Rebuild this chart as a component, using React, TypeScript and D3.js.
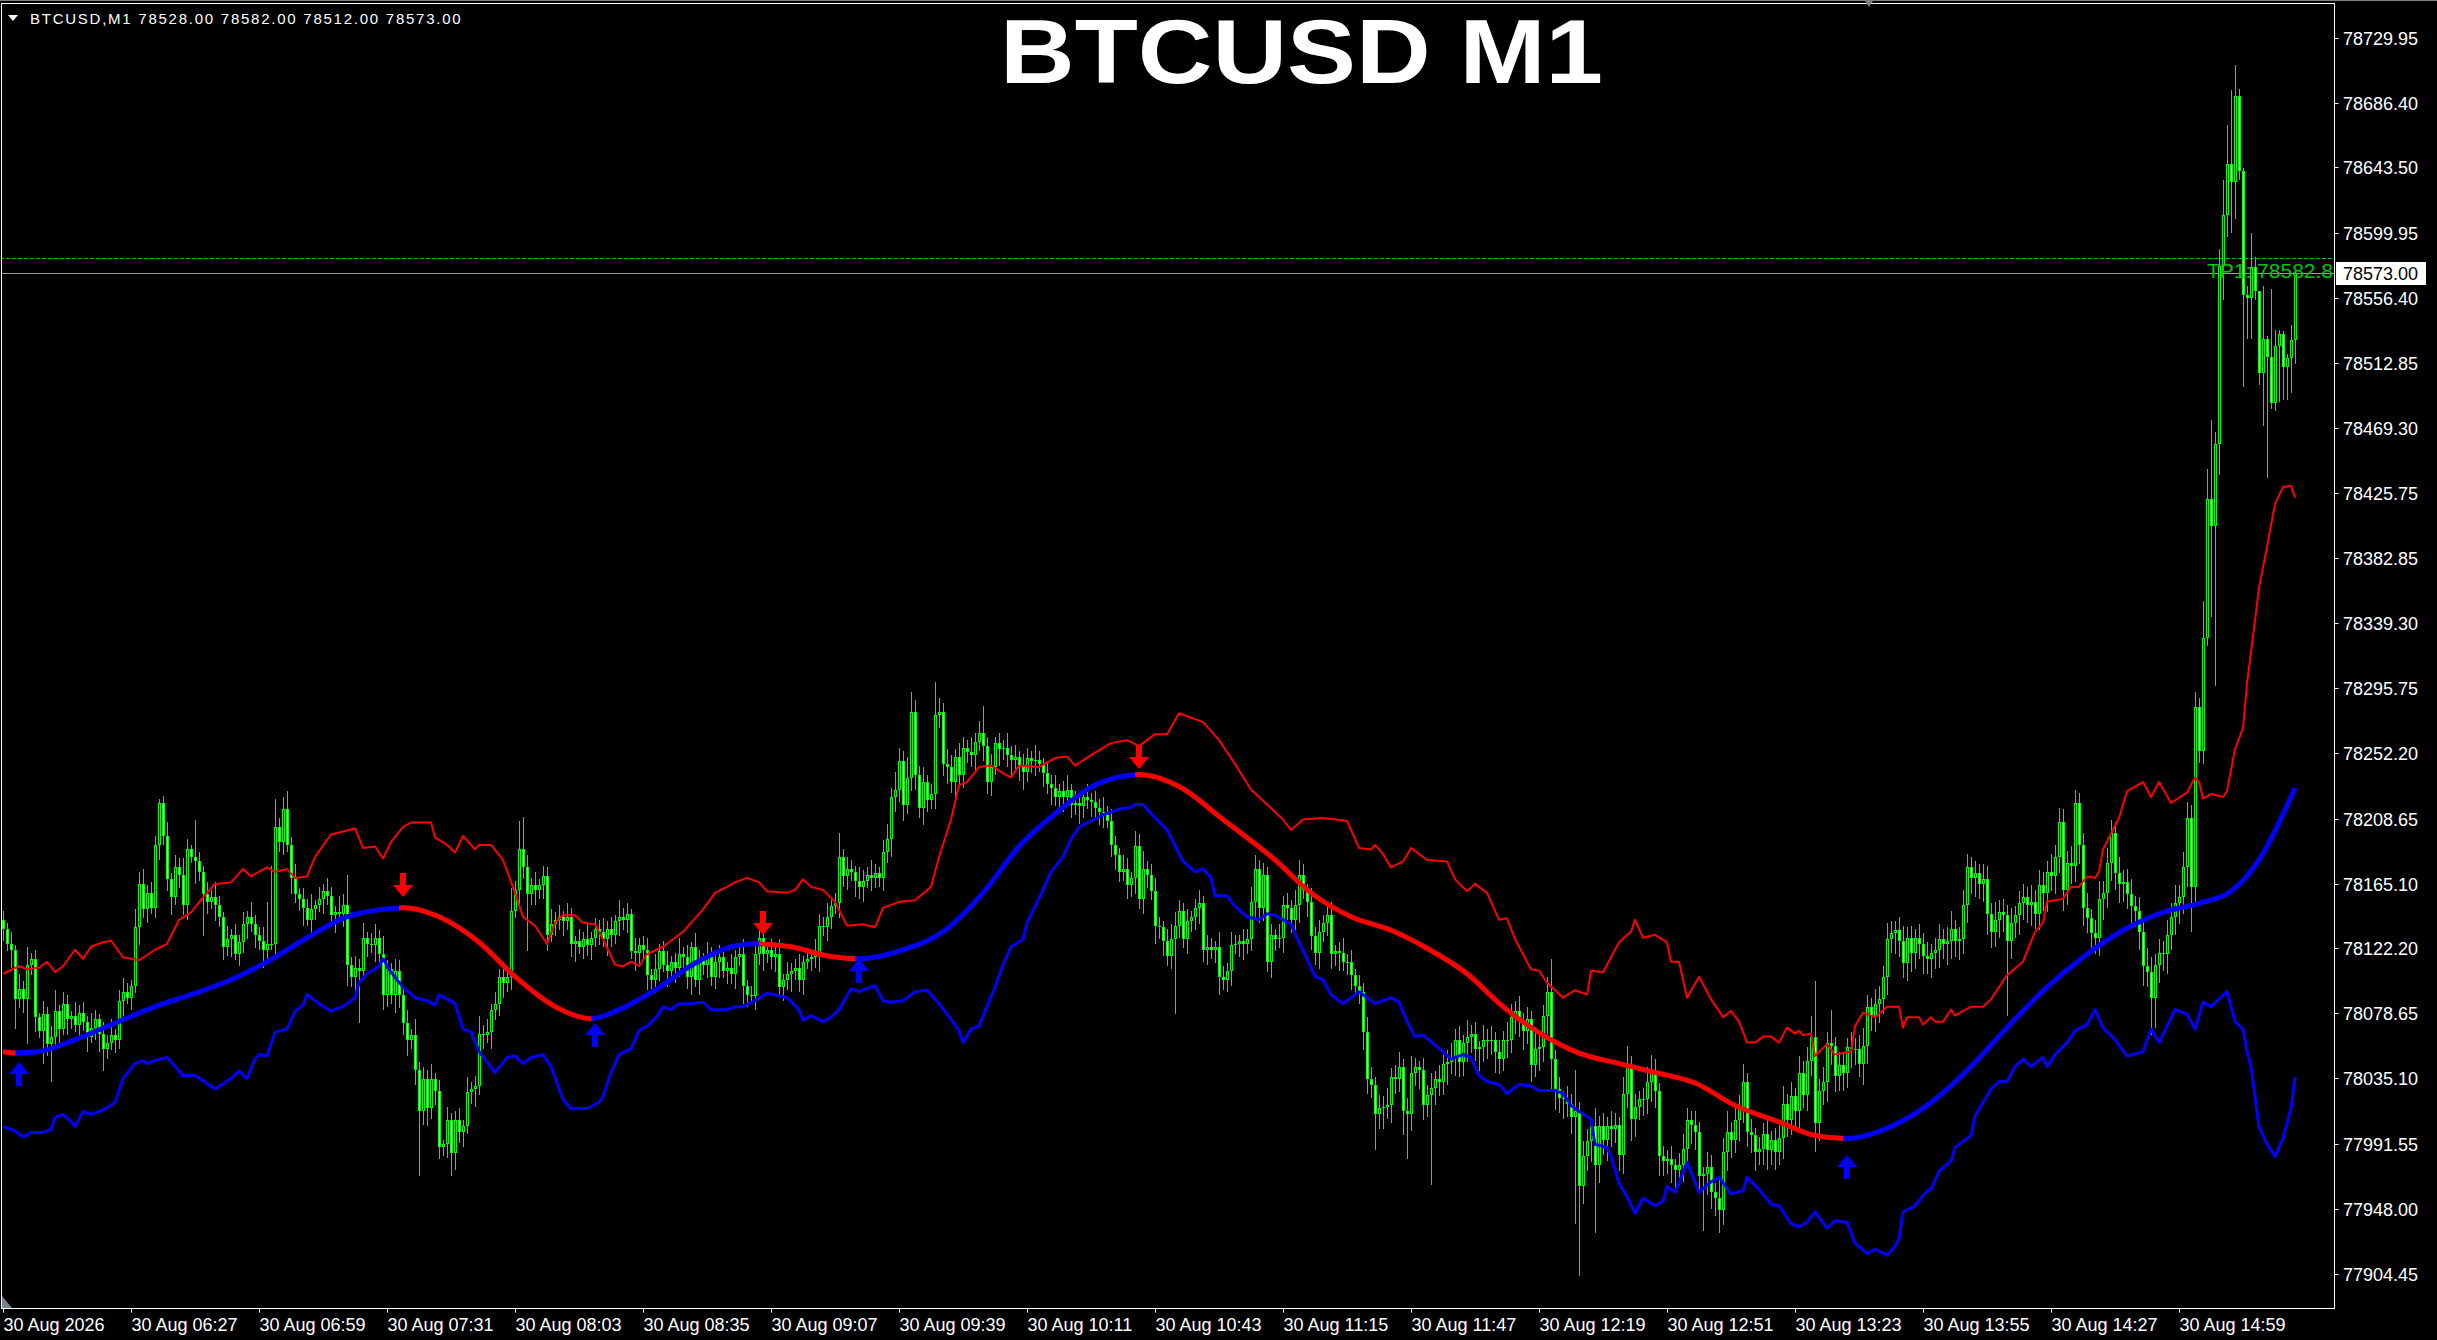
import * as d3 from "d3";

// prices are stored as offsets from base (USD)
const base = 78000;
const firstOpen = 141;

// closing price of every M1 bar, left to right
const closes = [
  135, 125, 121, 88, 95, 88, 111, 115, 76, 67, 78, 58, 63, 80, 68, 85, 75, 77, 71, 79,
  73, 63, 69, 75, 65, 55, 59, 64, 61, 87, 93, 89, 97, 136, 165, 148, 159, 149, 191, 219,
  197, 168, 156, 176, 171, 151, 188, 183, 180, 173, 158, 153, 156, 151, 143, 123, 128, 131, 118, 126,
  138, 143, 138, 131, 127, 121, 125, 125, 203, 193, 215, 191, 169, 158, 155, 149, 141, 148, 151, 155,
  160, 157, 144, 146, 145, 151, 111, 103, 109, 107, 129, 125, 124, 129, 118, 91, 108, 91, 107, 91,
  72, 61, 64, 41, 13, 35, 15, 35, 27, -11, -9, 7, -15, 7, -1, 3, 26, 28, 30, 65,
  64, 66, 81, 85, 103, 99, 103, 147, 161, 188, 176, 158, 164, 161, 164, 170, 131, 138, 141, 143,
  140, 143, 125, 127, 123, 128, 124, 129, 135, 133, 128, 135, 131, 140, 143, 141, 145, 120, 119, 124,
  121, 104, 101, 108, 120, 111, 107, 113, 109, 118, 116, 103, 123, 101, 115, 111, 116, 103, 113, 116,
  107, 109, 105, 116, 118, 97, 91, 90, 118, 129, 118, 121, 116, 118, 96, 101, 105, 107, 109, 101,
  113, 115, 116, 118, 137, 136, 143, 150, 152, 183, 170, 175, 173, 167, 163, 167, 171, 169, 172, 169,
  186, 195, 223, 228, 247, 218, 236, 280, 238, 216, 233, 221, 225, 278, 280, 245, 243, 233, 250, 238,
  256, 253, 251, 260, 266, 257, 233, 243, 259, 255, 256, 251, 248, 250, 243, 240, 249, 247, 248, 245,
  239, 232, 229, 223, 227, 223, 228, 218, 219, 217, 223, 221, 220, 216, 213, 213, 207, 191, 184, 173,
  175, 164, 169, 190, 155, 175, 171, 160, 137, 136, 127, 117, 128, 137, 147, 128, 140, 143, 149, 152,
  121, 123, 121, 123, 103, 101, 107, 124, 125, 127, 125, 128, 153, 175, 149, 171, 113, 131, 128, 129,
  151, 149, 141, 151, 171, 161, 153, 130, 119, 133, 139, 144, 118, 120, 119, 113, 113, 104, 97, 93,
  66, 35, 31, 11, 15, 16, 17, 36, 35, 43, 13, 11, 39, 43, 41, 17, 24, 29, 35, 33,
  45, 46, 49, 61, 46, 59, 63, 65, 55, 56, 61, 60, 61, 53, 48, 61, 61, 76, 80, 73,
  67, 75, 44, 55, 56, 77, 93, 48, 28, 22, 21, 18, 9, 13, -37, -17, -7, 3, -23, 3,
  -6, 3, 1, 4, -16, 25, 43, 8, 16, 21, 21, 33, 39, 27, -17, -20, -19, -23, -26, -23,
  -12, 7, 4, -1, -30, -29, -24, -41, -45, -53, -14, -1, -6, 7, 16, 33, -1, -3, -14, -12,
  -2, -13, -6, -14, -5, 18, 7, 23, 13, 39, 24, 47, 63, 5, 27, 33, 59, 57, 37, 44,
  39, 56, 55, 55, 45, 57, 83, 77, 85, 88, 103, 128, 132, 134, 127, 112, 129, 119, 129, 125,
  117, 115, 119, 121, 128, 125, 127, 135, 127, 128, 151, 176, 169, 172, 165, 168, 145, 133, 141, 146,
  144, 127, 139, 144, 152, 156, 151, 153, 145, 164, 159, 173, 170, 183, 206, 161, 179, 177, 219, 191,
  149, 142, 132, 129, 155, 159, 179, 199, 172, 165, 166, 158, 150, 147, 133, 110, 106, 89, 111, 119,
  118, 131, 143, 152, 156, 176, 209, 163, 283, 254, 329, 422, 404, 459, 578, 612, 646, 634, 691, 641,
  558, 556, 577, 561, 506, 529, 517, 486, 524, 532, 510, 516, 528, 573,
];

// upper / lower shadow length of each bar (USD)
const wickUp = [
  6, 4, 8, 3, 10, 5, 12, 4, 6, 3, 9, 5, 7, 14, 4, 8, 6, 3, 9, 5,
  7, 4, 10, 6, 3, 8, 5, 11, 4, 7, 9, 6, 4, 12, 8, 10, 5, 7, 6, 3,
  5, 9, 4, 8, 6, 11, 7, 3, 25, 6, 4, 8, 5, 10, 6, 3, 9, 4, 7, 5,
  8, 4, 10, 6, 5, 9, 28, 52, 19, 6, 8, 12, 5, 9, 4, 7, 6, 10, 3, 8,
  5, 9, 6, 4, 11, 7, 20, 5, 8, 6, 10, 4, 7, 9, 5, 12, 6, 4, 8, 7,
  6, 9, 4, 11, 5, 8, 6, 10, 4, 7, 3, 9, 5, 6, 8, 4, 10, 5, 7, 12,
  6, 9, 4, 8, 5, 10, 7, 15, 6, 19, 22, 8, 5, 9, 4, 7, 6, 10, 5, 8,
  4, 9, 6, 3, 8, 5, 10, 4, 7, 6, 9, 5, 8, 4, 11, 6, 7, 3, 9, 5,
  6, 8, 4, 10, 5, 7, 9, 4, 6, 11, 5, 8, 3, 9, 6, 4, 10, 7, 5, 8,
  6, 4, 9, 5, 7, 10, 4, 6, 8, 5, 9, 3, 7, 6, 10, 4, 8, 5, 6, 9,
  4, 7, 5, 10, 8, 6, 9, 4, 7, 16, 5, 8, 6, 4, 9, 7, 5, 10, 6, 4,
  8, 10, 6, 12, 9, 7, 14, 13, 8, 6, 10, 5, 7, 22, 9, 6, 10, 8, 5, 9,
  7, 5, 10, 6, 8, 18, 6, 9, 4, 7, 5, 10, 6, 8, 4, 9, 7, 5, 10, 6,
  4, 8, 6, 9, 5, 7, 10, 4, 8, 6, 3, 9, 5, 7, 6, 10, 4, 8, 6, 5,
  9, 7, 4, 10, 8, 12, 5, 7, 9, 6, 4, 8, 10, 9, 7, 5, 8, 4, 6, 9,
  5, 8, 6, 4, 10, 7, 5, 9, 6, 4, 8, 7, 10, 9, 6, 8, 5, 7, 4, 9,
  6, 8, 5, 10, 10, 7, 4, 9, 6, 8, 5, 7, 9, 4, 6, 10, 5, 8, 4, 7,
  6, 10, 8, 5, 9, 7, 12, 6, 8, 10, 5, 9, 11, 6, 4, 8, 7, 10, 5, 9,
  6, 8, 10, 7, 9, 5, 11, 6, 8, 4, 10, 7, 9, 5, 8, 6, 12, 9, 7, 10,
  6, 8, 5, 12, 9, 7, 10, 22, 6, 8, 5, 9, 7, 28, 6, 10, 8, 5, 12, 7,
  9, 6, 10, 8, 5, 11, 14, 7, 9, 6, 8, 10, 12, 9, 5, 7, 6, 9, 4, 8,
  10, 8, 6, 9, 7, 5, 10, 8, 6, 12, 9, 14, 7, 10, 8, 12, 6, 9, 5, 8,
  7, 10, 6, 8, 9, 12, 7, 10, 6, 11, 8, 9, 14, 37, 8, 10, 7, 22, 6, 9,
  8, 6, 10, 7, 9, 12, 8, 6, 10, 9, 7, 11, 8, 6, 9, 10, 7, 8, 6, 9,
  7, 9, 6, 8, 10, 7, 9, 12, 6, 8, 10, 9, 7, 8, 6, 10, 9, 7, 12, 8,
  9, 7, 10, 6, 8, 9, 7, 11, 8, 10, 9, 7, 12, 8, 10, 9, 8, 11, 9, 7,
  8, 10, 6, 9, 12, 8, 10, 9, 7, 11, 8, 9, 10, 7, 9, 8, 12, 10, 7, 9,
  8, 10, 9, 12, 8, 10, 11, 9, 10, 6, 25, 20, 53, 8, 11, 23, 26, 49, 21, 5,
  2, 6, 23, 7, 0, 35, 2, 45, 11, 3, 2, 3, 10, 3,
];
const wickDown = [
  8, 5, 12, 20, 6, 9, 30, 7, 10, 5, 22, 8, 25, 6, 9, 4, 11, 7, 5, 9,
  6, 10, 4, 8, 12, 15, 7, 5, 9, 6, 10, 4, 8, 5, 12, 6, 9, 4, 7, 10,
  6, 8, 12, 5, 9, 7, 10, 4, 15, 6, 28, 8, 5, 11, 7, 9, 6, 12, 4, 8,
  7, 10, 5, 9, 6, 12, 8, 4, 10, 7, 9, 5, 11, 6, 8, 12, 4, 9, 7, 5,
  10, 6, 8, 12, 5, 9, 14, 7, 10, 35, 6, 9, 5, 11, 7, 10, 8, 6, 12, 9,
  8, 11, 6, 10, 43, 9, 12, 7, 10, 8, 6, 9, 15, 11, 7, 10, 5, 8, 12, 6,
  9, 5, 11, 7, 8, 10, 6, 9, 5, 12, 8, 38, 7, 10, 6, 9, 11, 5, 8, 7,
  10, 6, 9, 12, 5, 8, 7, 10, 6, 9, 5, 11, 8, 6, 10, 7, 9, 5, 12, 8,
  7, 10, 6, 9, 8, 5, 11, 7, 10, 6, 9, 8, 12, 5, 10, 7, 9, 6, 8, 11,
  5, 9, 7, 10, 6, 12, 8, 5, 9, 7, 11, 6, 8, 10, 5, 9, 7, 12, 6, 8,
  10, 5, 8, 7, 12, 6, 9, 8, 5, 10, 7, 9, 6, 11, 8, 10, 5, 9, 7, 6,
  9, 7, 12, 10, 8, 11, 6, 9, 10, 7, 12, 8, 6, 10, 9, 8, 11, 7, 10, 6,
  9, 7, 8, 12, 6, 10, 8, 9, 5, 11, 7, 8, 10, 6, 9, 12, 7, 8, 10, 5,
  9, 7, 11, 6, 8, 10, 5, 9, 7, 12, 8, 6, 10, 7, 9, 11, 5, 8, 10, 7,
  6, 9, 8, 11, 7, 10, 9, 6, 12, 8, 10, 7, 9, 50, 8, 6, 10, 7, 9, 11,
  8, 10, 6, 9, 12, 7, 8, 10, 6, 9, 11, 7, 8, 12, 10, 9, 7, 11, 8, 6,
  10, 8, 9, 7, 12, 6, 10, 9, 8, 11, 7, 9, 10, 8, 12, 6, 9, 10, 7, 8,
  12, 10, 9, 24, 10, 14, 8, 12, 10, 9, 16, 30, 11, 9, 13, 10, 8, 60, 12, 10,
  9, 14, 8, 12, 10, 9, 13, 11, 8, 15, 10, 12, 9, 14, 10, 8, 12, 9, 11, 10,
  13, 9, 11, 8, 15, 10, 12, 20, 14, 10, 13, 9, 11, 71, 60, 12, 10, 14, 45, 12,
  10, 14, 12, 9, 11, 13, 10, 15, 12, 9, 11, 10, 14, 12, 13, 10, 9, 12, 14, 10,
  11, 9, 13, 12, 10, 37, 14, 11, 12, 15, 10, 13, 12, 9, 14, 11, 10, 12, 13, 9,
  11, 13, 10, 12, 9, 14, 11, 10, 12, 13, 9, 11, 10, 19, 12, 10, 14, 13, 11, 10,
  12, 10, 13, 11, 9, 14, 12, 10, 11, 13, 10, 12, 9, 14, 11, 10, 12, 13, 11, 10,
  12, 10, 13, 11, 12, 10, 14, 12, 11, 13, 10, 12, 11, 13, 10, 12, 14, 11, 10, 12,
  11, 50, 12, 10, 13, 11, 12, 14, 10, 11, 12, 13, 10, 12, 11, 14, 10, 12, 11, 13,
  12, 10, 13, 11, 12, 14, 10, 12, 11, 13, 12, 10, 14, 11, 12, 13, 10, 25, 20, 12,
  11, 13, 10, 12, 14, 11, 13, 30, 12, 8, 9, 5, 61, 107, 21, 23, 15, 34, 25, 6,
  61, 27, 27, 6, 8, 35, 81, 4, 5, 37, 22, 22, 23, 16,
];

// indicator lines, [bar, price offset]
const centerLine: [number, number][] = [
  [0, 53], [3, 52], [9, 53], [18, 61], [28, 72], [38, 83], [47, 91], [57, 101], [66, 113], [76, 129],
  [85, 142], [95, 148], [100, 149], [109, 143], [119, 126], [128, 103], [138, 83], [147, 75], [154, 81],
  [163, 94], [173, 112], [182, 123], [188, 125], [197, 123], [206, 117], [214, 115], [225, 121], [235, 133],
  [245, 159], [254, 190], [264, 214], [273, 231], [284, 238], [294, 230], [305, 208], [318, 181], [327, 159],
  [337, 143], [347, 134], [356, 122], [366, 105], [375, 83], [385, 64], [394, 52], [404, 45], [413, 39],
  [423, 32], [433, 17], [444, 6], [453, -3], [461, -5], [472, 3], [482, 19], [492, 43], [501, 69], [511, 96],
  [520, 116], [530, 134], [540, 146], [549, 152], [557, 160], [564, 181], [573, 229],
];
const upperBand: [number, number][] = [
  [0, 105], [4, 110], [6, 108], [9, 109], [11, 113], [13, 106], [15, 110], [18, 121], [20, 115], [22, 123],
  [25, 126], [27, 127], [30, 116], [34, 114], [38, 121], [41, 125], [44, 141], [47, 146], [50, 156], [53, 165],
  [57, 166], [60, 175], [62, 170], [66, 176], [68, 173], [71, 175], [73, 169], [76, 170], [78, 183], [82, 198],
  [85, 200], [88, 202], [90, 189], [93, 190], [95, 182], [97, 193], [100, 203], [102, 206], [107, 206], [108, 196],
  [111, 191], [113, 186], [115, 197], [118, 188], [119, 191], [122, 191], [125, 181], [128, 159], [130, 143],
  [133, 137], [136, 125], [138, 139], [140, 144], [143, 144], [145, 139], [148, 138],
  [150, 128], [153, 111], [155, 110], [157, 113], [159, 110], [161, 118], [165, 123], [170, 133], [175, 148],
  [178, 159], [181, 163], [183, 166], [186, 169], [189, 166], [191, 160], [196, 159], [198, 161], [200, 168],
  [202, 163], [205, 161], [208, 153], [211, 137], [215, 138], [218, 136], [220, 149], [224, 153], [228, 154],
  [232, 163], [234, 183], [237, 208], [239, 231], [241, 233], [244, 243], [247, 244], [250, 239], [252, 236],
  [254, 244], [259, 243], [263, 249], [266, 250], [268, 244], [272, 251], [277, 259], [281, 261], [284, 257],
  [288, 265], [291, 265], [294, 279],
  [296, 277], [300, 273], [304, 261], [308, 245], [312, 228], [316, 218], [320, 208], [322, 201], [325, 208],
  [330, 209], [336, 207], [339, 189], [342, 188], [343, 191], [345, 185], [347, 176], [350, 180], [352, 189],
  [356, 181], [361, 180], [363, 168], [366, 160], [368, 165], [371, 159], [374, 141], [376, 142], [378, 128],
  [380, 118], [382, 108], [384, 107], [386, 99], [390, 89], [393, 94], [396, 91], [397, 107], [400, 106],
  [404, 126], [407, 133], [408, 141], [410, 129], [413, 131], [416, 126], [417, 113], [419, 113], [421, 89],
  [424, 103], [427, 88], [430, 76], [432, 80], [434, 73], [436, 59],
  [438, 59], [440, 63], [442, 63], [444, 59], [446, 69], [448, 65], [449, 67], [450, 64], [452, 65], [453, 50],
  [456, 58], [458, 51], [462, 53], [463, 70], [465, 79], [468, 76], [471, 83], [474, 83], [475, 69], [476, 76],
  [479, 76], [480, 71], [482, 76], [483, 73], [485, 73], [487, 81], [488, 77], [492, 83], [495, 83], [497, 88],
  [501, 104], [505, 113], [508, 133], [510, 139], [511, 153], [515, 155], [517, 163], [519, 163], [521, 170],
  [523, 169], [524, 173], [525, 188], [529, 209], [531, 227], [535, 233], [537, 223], [539, 233], [542, 219],
  [546, 226], [548, 236], [549, 233], [550, 222], [552, 225], [555, 223], [556, 227], [558, 255], [560, 269],
  [561, 299], [563, 341], [564, 363], [566, 390], [568, 419], [570, 430], [572, 431], [573, 423],
];
const lowerBand: [number, number][] = [
  [0, 3], [3, 0], [5, -4], [7, -1], [10, -1], [12, 1], [13, 9], [15, 11], [17, 6], [18, 3], [20, 13], [22, 11],
  [25, 14], [28, 19], [30, 35], [33, 45], [35, 47], [36, 45], [38, 47], [41, 49], [45, 37], [48, 37], [53, 28],
  [57, 35], [59, 40], [61, 35], [63, 48], [64, 51], [66, 50], [68, 66], [71, 68], [73, 80], [75, 84], [76, 91],
  [79, 85], [82, 80], [85, 83], [88, 89], [89, 99], [91, 105], [94, 110], [95, 115], [97, 106], [100, 96],
  [103, 89], [106, 87], [108, 84], [109, 91], [111, 88], [113, 85], [115, 68], [117, 66], [119, 53], [123, 39],
  [126, 49], [128, 50], [130, 45], [132, 49], [135, 51], [137, 43], [140, 21], [142, 15], [146, 15], [149, 19],
  [150, 23], [152, 39], [154, 51], [157, 55], [159, 67], [161, 70], [164, 78], [165, 83], [167, 81], [169, 85],
  [172, 85], [175, 86], [177, 81], [181, 81], [183, 83], [185, 83], [188, 87], [191, 92], [193, 91], [196, 89],
  [199, 81], [200, 74], [202, 77], [205, 73], [207, 76], [209, 81], [212, 95], [214, 93], [216, 95], [218, 97],
  [220, 87], [222, 86], [225, 87], [228, 93], [231, 94], [234, 85], [236, 78], [239, 67], [240, 59], [242, 68],
  [244, 70], [246, 83], [248, 96], [250, 111], [252, 123], [255, 128], [256, 139], [258, 150], [260, 161],
  [262, 173], [265, 183], [267, 195], [269, 203], [272, 207], [275, 211], [277, 213], [279, 215], [282, 216],
  [283, 218], [285, 218], [288, 209], [291, 201], [294, 185],
  [295, 180], [298, 173], [300, 175], [302, 169], [303, 157], [306, 157], [308, 150], [311, 143], [314, 141],
  [316, 145], [318, 144], [322, 138], [324, 126], [326, 115], [328, 103], [330, 101], [332, 91], [335, 85],
  [339, 93], [343, 85], [347, 89], [349, 86], [351, 73], [353, 63], [355, 64], [360, 53], [362, 48], [365, 51],
  [367, 49], [369, 37], [371, 33], [374, 31], [376, 25], [379, 31], [382, 30], [384, 27], [388, 27], [390, 25],
  [392, 17], [394, 13], [397, 8], [398, -9], [401, -11], [402, -17], [404, -35], [406, -44], [408, -55],
  [410, -45], [413, -50], [415, -47], [416, -37], [418, -41], [421, -21], [424, -41], [427, -34], [429, -31],
  [432, -42], [435, -40], [436, -31],
  [439, -39], [442, -49], [444, -50], [447, -62], [449, -64], [451, -61], [453, -54], [456, -65], [458, -60],
  [461, -61], [463, -75], [466, -82], [468, -79], [471, -83], [473, -77], [474, -72], [475, -54], [478, -50],
  [481, -40], [482, -39], [484, -27], [487, -20], [488, -11], [492, -3], [493, 10], [495, 19], [497, 28],
  [499, 33], [501, 33], [503, 43], [505, 48], [507, 43], [510, 49], [511, 43], [513, 51], [516, 59], [518, 67],
  [521, 71], [523, 81], [525, 69], [528, 61], [531, 50], [535, 53], [537, 68], [539, 59], [541, 70], [543, 81],
  [546, 78], [548, 68], [550, 86], [552, 83], [556, 93], [558, 73], [560, 68], [561, 53], [562, 43], [564, 3],
  [566, -9], [568, -17], [570, -5], [572, 15], [573, 36],
];

// trend change arrows (price = arrow tip)
const signals = [
  { bar: 4, dir: "up", price: 46 },
  { bar: 100, dir: "down", price: 156 },
  { bar: 148, dir: "up", price: 72 },
  { bar: 190, dir: "down", price: 131 },
  { bar: 214, dir: "up", price: 115 },
  { bar: 284, dir: "down", price: 242 },
  { bar: 461, dir: "up", price: -16 },
];

const priceLabels = [
  "78729.95", "78686.40", "78643.50", "78599.95", "78556.40", "78512.85", "78469.30", "78425.75",
  "78382.85", "78339.30", "78295.75", "78252.20", "78208.65", "78165.10", "78122.20", "78078.65",
  "78035.10", "77991.55", "77948.00", "77904.45",
];
const timeLabels = [
  "30 Aug 2026", "30 Aug 06:27", "30 Aug 06:59", "30 Aug 07:31", "30 Aug 08:03", "30 Aug 08:35",
  "30 Aug 09:07", "30 Aug 09:39", "30 Aug 10:11", "30 Aug 10:43", "30 Aug 11:15", "30 Aug 11:47",
  "30 Aug 12:19", "30 Aug 12:51", "30 Aug 13:23", "30 Aug 13:55", "30 Aug 14:27", "30 Aug 14:59",
];
const barsPerLabel = 32;
const header = "BTCUSD,M1  78528.00 78582.00 78512.00 78573.00";
const title = "BTCUSD M1";
const tpLevel = 78582.8;
const tpText = "TP1: 78582.8";
const lastPrice = 78573.0;

const W = 2437;
const H = 1340;
const frame = { left: 1.5, top: 3.5, right: 2334.5, bottom: 1308.5 };
const font = "'Liberation Sans', Arial, sans-serif";
const lime = "#00ff00";

export default function App() {
  const x = d3.scaleLinear().domain([0, closes.length - 1]).range([3, 2295]);
  const y = d3.scaleLinear().domain([77904.45, 78729.95]).range([1274, 38]);
  const py = (off: number) => y(base + off);

  const candles = closes.map((c, i) => {
    const o = i === 0 ? firstOpen : closes[i - 1];
    const hi = Math.max(o, c) + (wickUp[i] ?? 0);
    const lo = Math.min(o, c) - (wickDown[i] ?? 0);
    return { i, o, c, hi, lo };
  });

  const smooth =
    d3
      .line<[number, number]>()
      .x((d) => x(d[0]))
      .y((d) => py(d[1]))
      .curve(d3.curveMonotoneX)(centerLine) ?? "";
  const upperPath = d3.line<[number, number]>().x((d) => x(d[0])).y((d) => py(d[1]))(upperBand) ?? "";
  const lowerPath = d3.line<[number, number]>().x((d) => x(d[0])).y((d) => py(d[1]))(lowerBand) ?? "";

  // colour ranges of the centre line, switched by the signals
  const ranges: { from: number; to: number; color: string }[] = [];
  let start = -5;
  let color = signals[0].dir === "up" ? "#ff0000" : "#0000ff";
  for (const s of signals) {
    ranges.push({ from: start, to: s.bar - 1, color });
    start = s.bar - 1;
    color = s.dir === "up" ? "#0000ff" : "#ff0000";
  }
  ranges.push({ from: start, to: closes.length + 5, color });

  const upArrow = "M0,0 L10,12 L3,12 L3,24 L-3,24 L-3,12 L-10,12 Z";
  const downArrow = "M0,0 L10,-12 L3,-12 L3,-24 L-3,-24 L-3,-12 L-10,-12 Z";

  const lastY = Math.round(y(lastPrice)) + 0.5;
  const tpY = Math.round(y(tpLevel)) + 0.5;

  return (
    <svg
      width={W}
      height={H}
      style={{ position: "absolute", left: 0, top: 0, display: "block", background: "#000" }}
    >
      <rect x={0} y={0} width={W} height={H} fill="#000" />
      <defs>
        <clipPath id="plot">
          <rect x={frame.left} y={frame.top} width={frame.right - frame.left} height={frame.bottom - frame.top} />
        </clipPath>
        {ranges.map((r, k) => (
          <clipPath id={`trend${k}`} key={k}>
            <rect x={x(r.from)} y={0} width={x(r.to) - x(r.from)} height={H} />
          </clipPath>
        ))}
      </defs>

      <g clipPath="url(#plot)">
        {/* price line and take profit */}
        <line x1={0} x2={frame.right} y1={lastY} y2={lastY} stroke="#9a9a9a" strokeWidth={1} />
        <line x1={0} x2={frame.right} y1={tpY} y2={tpY} stroke="#00c800" strokeWidth={1} strokeDasharray="4,2" />

        {/* candles */}
        {candles.map((d) => {
          const cx = Math.round(x(d.i));
          const top = Math.round(py(Math.max(d.o, d.c)));
          const bot = Math.round(py(Math.min(d.o, d.c)));
          const hiY = Math.round(py(d.hi));
          const loY = Math.round(py(d.lo));
          const h = Math.max(1, bot - top);
          return (
            <g key={d.i}>
              <rect x={cx} y={hiY} width={1} height={Math.max(1, loY - hiY)} fill={lime} />
              <rect x={cx - 1} y={top} width={3} height={h} fill={lime} />
              {h > 2 && (
                <rect x={cx} y={top + 1} width={1} height={h - 2} fill={d.c < d.o ? "#ffffff" : "#000000"} />
              )}
            </g>
          );
        })}

        {/* bands */}
        <path d={upperPath} fill="none" stroke="#ff0000" strokeWidth={2} strokeLinejoin="round" />
        <path d={lowerPath} fill="none" stroke="#0000ff" strokeWidth={3} strokeLinejoin="round" />

        {/* centre line */}
        {ranges.map((r, k) => (
          <path
            key={k}
            d={smooth}
            fill="none"
            stroke={r.color}
            strokeWidth={5}
            clipPath={`url(#trend${k})`}
          />
        ))}

        {/* signal arrows */}
        {signals.map((s) => (
          <path
            key={s.bar}
            d={s.dir === "up" ? upArrow : downArrow}
            transform={`translate(${Math.round(x(s.bar))},${Math.round(py(s.price))})`}
            fill={s.dir === "up" ? "#0000ff" : "#ff0000"}
          />
        ))}

        <text x={2333} y={tpY + 19} textAnchor="end" fontFamily={font} fontSize={21} fill="#00c800">
          {tpText}
        </text>
      </g>

      {/* window frame */}
      <line x1={0} x2={W} y1={0.5} y2={0.5} stroke="#808080" />
      <rect
        x={frame.left}
        y={frame.top}
        width={frame.right - frame.left}
        height={frame.bottom - frame.top}
        fill="none"
        stroke="#ffffff"
        strokeWidth={1}
      />
      <polygon points="1865,1 1873,1 1869,7" fill="#808080" />
      <polygon points="2,1296 2,1308 12,1308" fill="#7a8190" />

      {/* price axis */}
      {priceLabels.map((p) => {
        const ty = Math.round(y(parseFloat(p))) + 0.5;
        return (
          <g key={p}>
            <line x1={frame.right} x2={frame.right + 4} y1={ty} y2={ty} stroke="#ffffff" />
            <text x={2343} y={ty + 6.5} fontFamily={font} fontSize={18} fill="#ffffff">
              {p}
            </text>
          </g>
        );
      })}
      <rect x={2336} y={lastY - 11.5} width={90} height={23} fill="#ffffff" />
      <text x={2343} y={lastY + 6.5} fontFamily={font} fontSize={18} fill="#000000">
        {lastPrice.toFixed(2)}
      </text>

      {/* time axis */}
      {timeLabels.map((t, k) => {
        const tx = Math.round(x(k * barsPerLabel)) + 0.5;
        return (
          <g key={t}>
            <line x1={tx} x2={tx} y1={frame.bottom} y2={frame.bottom + 4} stroke="#ffffff" />
            <text x={tx} y={1331} fontFamily={font} fontSize={18} fill="#ffffff">
              {t}
            </text>
          </g>
        );
      })}

      {/* header and title */}
      <polygon points="8,15 18,15 13,21" fill="#ffffff" />
      <text x={30} y={24} fontFamily={font} fontSize={15} letterSpacing={1.75} fill="#ffffff">
        {header}
      </text>
      <text
        x={1000}
        y={83}
        fontFamily={font}
        fontSize={91}
        fontWeight={700}
        fill="#ffffff"
        textLength={603}
        lengthAdjust="spacingAndGlyphs"
      >
        {title}
      </text>
    </svg>
  );
}
